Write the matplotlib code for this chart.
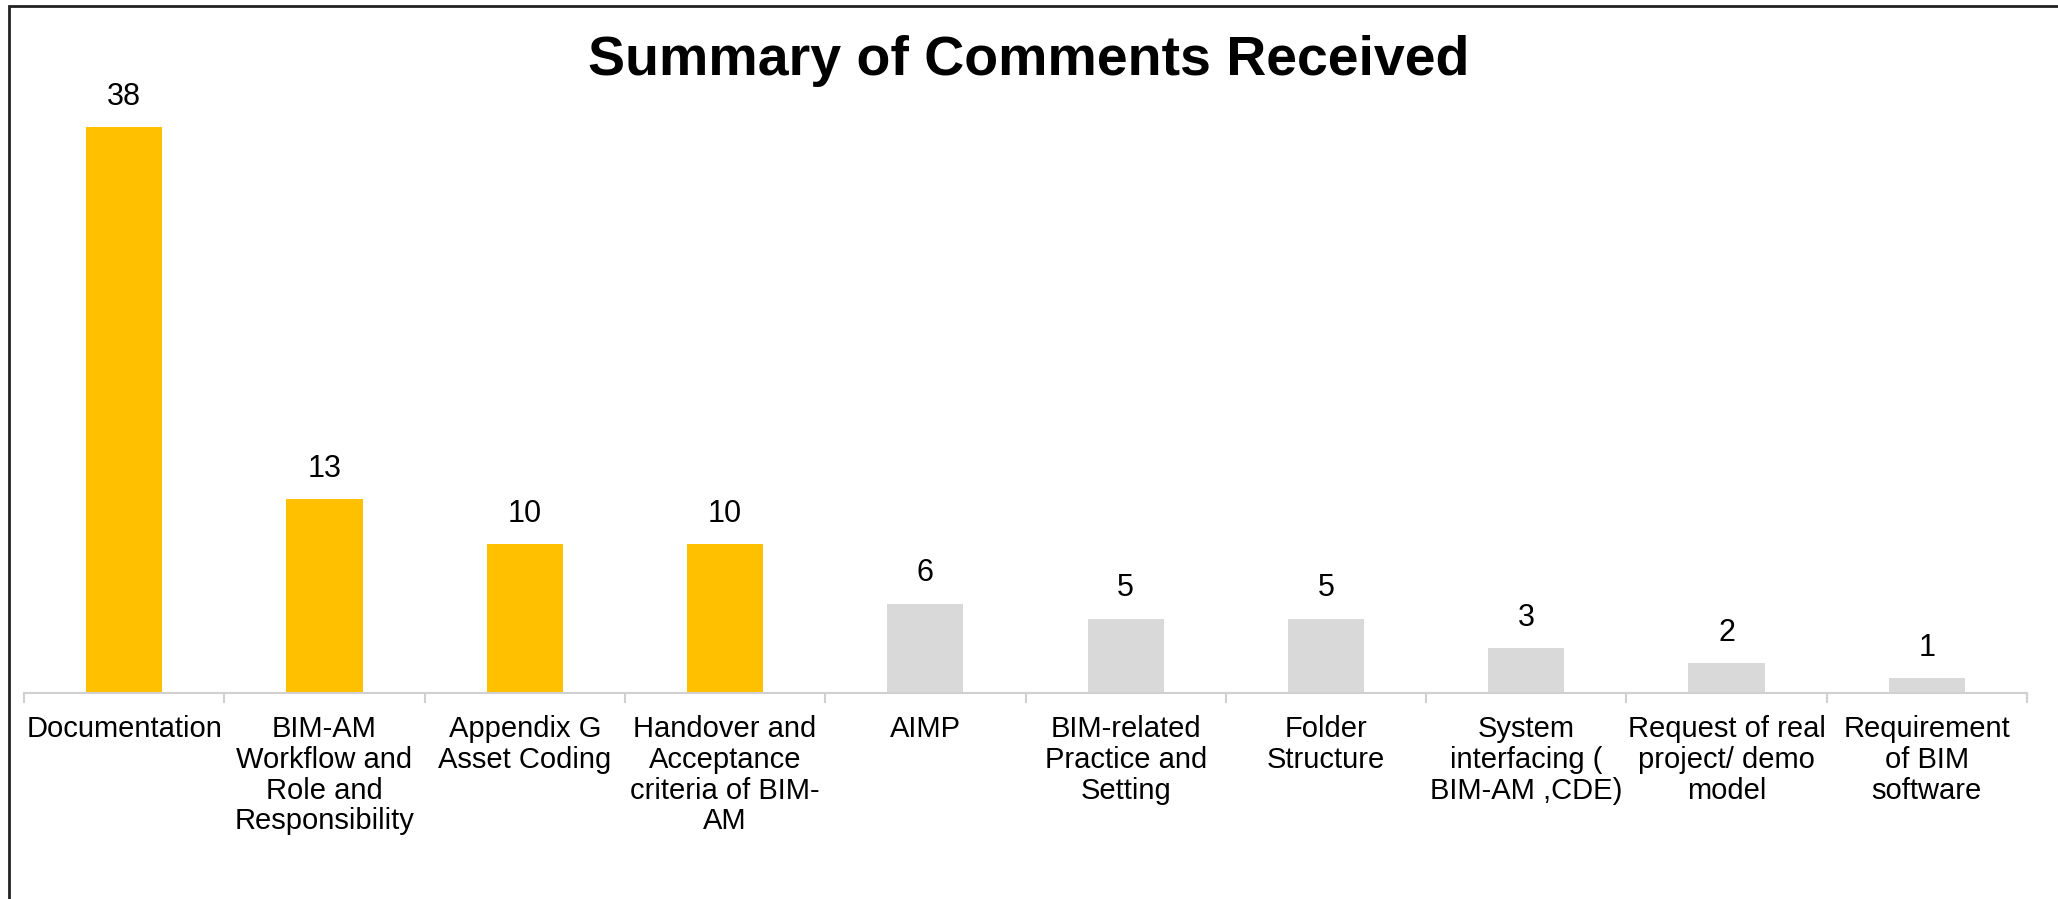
import numpy as np
import matplotlib.pyplot as plt
from matplotlib.patches import Rectangle

plt.rcParams['font.family'] = ['Liberation Sans', 'DejaVu Sans']

categories = ["Documentation",
              "BIM-AM\nWorkflow and\nRole and\nResponsibility",
              "Appendix G\nAsset Coding",
              "Handover and\nAcceptance\ncriteria of BIM-\nAM",
              "AIMP",
              "BIM-related\nPractice and\nSetting",
              "Folder\nStructure",
              "System\ninterfacing (\nBIM-AM ,CDE)",
              "Request of real\nproject/ demo\nmodel",
              "Requirement\nof BIM\nsoftware"]
counts = [38, 13, 10, 10, 6, 5, 5, 3, 2, 1]
highlight = [True, True, True, True, False, False, False, False, False, False]

gold = '#FFC000'
grey = '#D9D9D9'

fig = plt.figure(figsize=(20.58, 8.99), dpi=100)
ax = fig.add_axes([24/2058, 1 - 693/899, (2027 - 24)/2058, (693 - 97)/899])

x = np.arange(len(counts))
colors = [gold if h else grey for h in highlight]
bars = ax.bar(x, counts, width=0.38, color=colors, zorder=2)
ax.bar_label(bars, labels=[str(c) for c in counts], padding=11, fontsize=22)

ax.set_xlim(-0.5, len(counts) - 0.5)
ax.set_ylim(0, 40)
ax.set_yticks([])
ax.set_xticks(x)
ax.set_xticklabels(categories, fontsize=21, linespacing=1.12, va='top', ha='center')
ax.tick_params(axis='x', which='major', length=0, pad=16)
ax.set_xticks(np.arange(-0.5, len(counts)), minor=True)
ax.tick_params(axis='x', which='minor', length=7, width=1.5, color='#D0D0D0')

for s in ['top', 'right', 'left']:
    ax.spines[s].set_visible(False)
ax.spines['bottom'].set_color('#D0D0D0')
ax.spines['bottom'].set_linewidth(1.5)

fig.text(0.5, 1 - 61/899, "Summary of Comments Received", ha='center', va='center',
         fontsize=40, fontweight='bold')

# chart border (cropped on right and bottom)
fig.patches.append(Rectangle((9/2058, -0.5), 2.0, 1.5 - 6/899, transform=fig.transFigure,
                             fill=False, edgecolor='#222222', linewidth=2))

fig.savefig('out.png', dpi=100)
